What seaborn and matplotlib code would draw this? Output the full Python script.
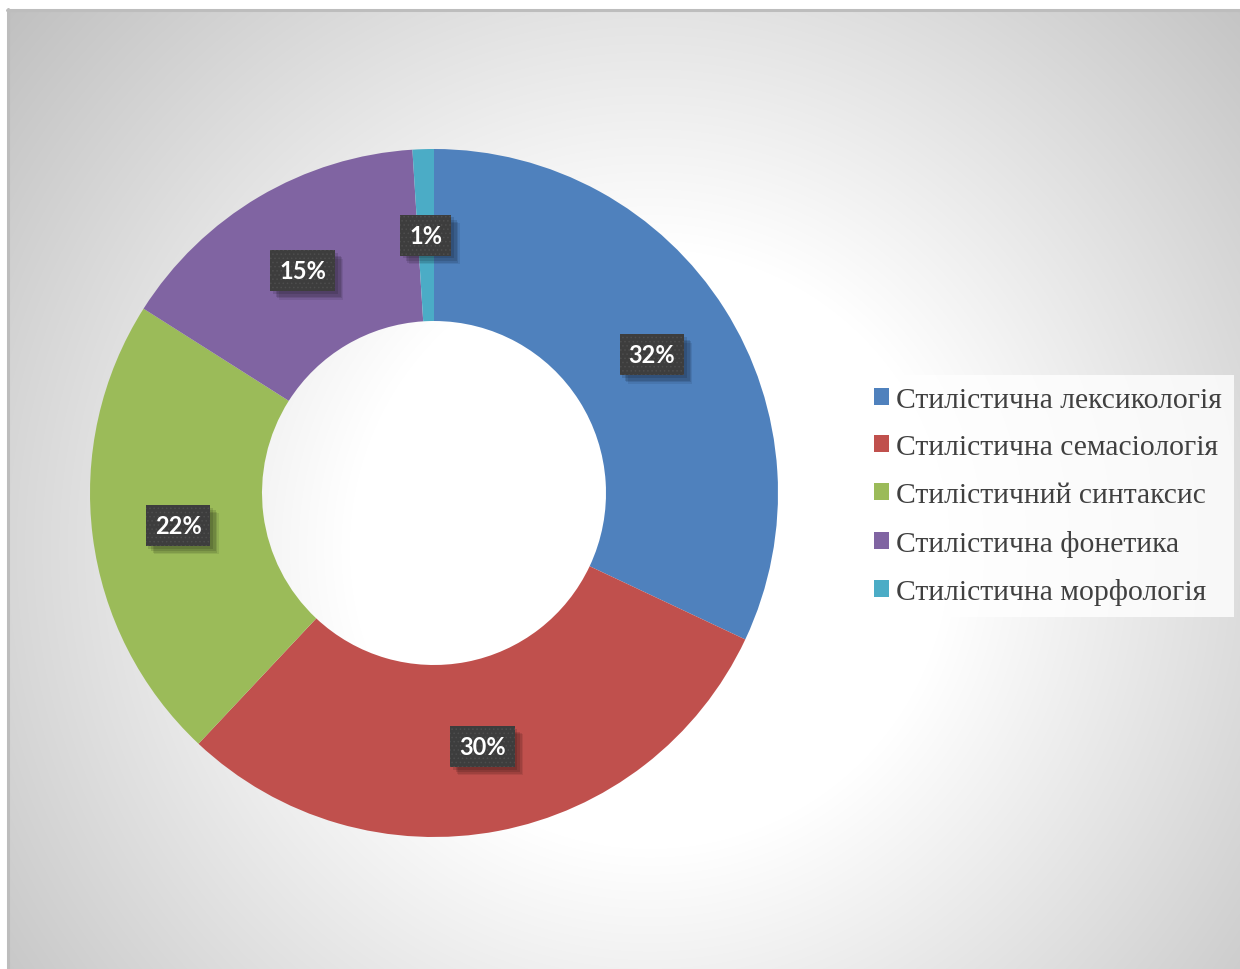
import numpy as np
import matplotlib
matplotlib.use("Agg")
import matplotlib.pyplot as plt
import matplotlib.patheffects as pe
import seaborn as sns

# ---- data ----
categories = ["Стилістична лексикологія", "Стилістична семасіологія",
              "Стилістичний синтаксис", "Стилістична фонетика",
              "Стилістична морфологія"]
values = [32, 30, 22, 15, 1]
colors = ["#4F81BD", "#C0504D", "#9BBB59", "#8064A2", "#4BACC6"]

sns.set_theme(style="white")
plt.rcParams["font.family"] = ["Liberation Serif", "DejaVu Serif"]
plt.rcParams["hatch.linewidth"] = 0.6


class SoftShadow(pe.SimplePatchShadow):
    """Patch shadow without the hatch pattern."""
    def draw_path(self, renderer, gc, tpath, affine, rgbFace):
        gc2 = renderer.new_gc()
        gc2.copy_properties(gc)
        gc2.set_hatch(None)
        super().draw_path(renderer, gc2, tpath, affine, rgbFace)
        gc2.restore()


W, H = 1240, 970
fig = plt.figure(figsize=(W / 100, H / 100), dpi=100)
fig.patch.set_facecolor("white")

# ---- background gradient panel ----
x0, y0 = 7, 10
xs = np.arange(x0, W) + 0.5
ys = np.arange(y0, H) + 0.5
XX, YY = np.meshgrid(xs, ys)
d = np.sqrt((XX - 650) ** 2 + (YY - 550) ** 2)
v = np.clip(255 - 0.117 * (d - 300), 192, 255) / 255.0
rgb = np.dstack([v, v, v])
bg = fig.add_axes([x0 / W, 0, 1 - x0 / W, (H - y0) / H])
bg.imshow(rgb, aspect="auto", interpolation="bilinear")
bg.axis("off")
fig.add_artist(plt.Line2D([x0 / W, 1], [1 - (y0 + 1) / H] * 2, color="#bdbdbd", lw=2.2))
fig.add_artist(plt.Line2D([(x0 + 1) / W] * 2, [0, 1 - y0 / H], color="#bdbdbd", lw=2.2))

# ---- donut ----
cx, cy, R = 434, 494, 344
ax = fig.add_axes([0, 0, 1, 1])
ax.patch.set_alpha(0)

wedges, _, autotexts = ax.pie(values, colors=colors, startangle=90, counterclock=False,
                              radius=1.0, wedgeprops=dict(width=0.5, linewidth=0),
                              autopct="%.0f%%", pctdistance=0.75)
ax.set_aspect("auto")
ax.set_xlim(-cx / R, (W - cx) / R)
ax.set_ylim(-(H - cy) / R, cy / R)
ax.axis("off")

for t in autotexts:
    t.set_fontsize(17)
    t.set_fontweight("bold")
    t.set_family(["Lato", "DejaVu Sans"])
    t.set_color("white")
    t.set_zorder(6)
    t.set_bbox(dict(boxstyle="square,pad=0.38", fc="#3d3d3d", ec="#4d4d4d",
                    lw=0, hatch="...."))
    t.get_bbox_patch().set_path_effects([
        SoftShadow(offset=(6, -6), shadow_rgbFace="black", alpha=0.08),
        SoftShadow(offset=(5, -5), shadow_rgbFace="black", alpha=0.1),
        SoftShadow(offset=(4, -4), shadow_rgbFace="black", alpha=0.12),
        SoftShadow(offset=(2, -2), shadow_rgbFace="black", alpha=0.12),
        pe.Normal()])

leg = ax.legend(wedges, categories, loc="center left",
                bbox_to_anchor=(862 / W, 1 - 497 / H), bbox_transform=fig.transFigure,
                fontsize=21.3, frameon=True, fancybox=False, borderpad=0.4,
                handlelength=0.5, handleheight=0.5, handletextpad=0.25,
                labelspacing=0.73, borderaxespad=0)
leg.get_frame().set_facecolor((1, 1, 1, 0.45))
leg.get_frame().set_edgecolor("none")
for txt in leg.get_texts():
    txt.set_color("#404040")

fig.savefig("out.png", dpi=100)
